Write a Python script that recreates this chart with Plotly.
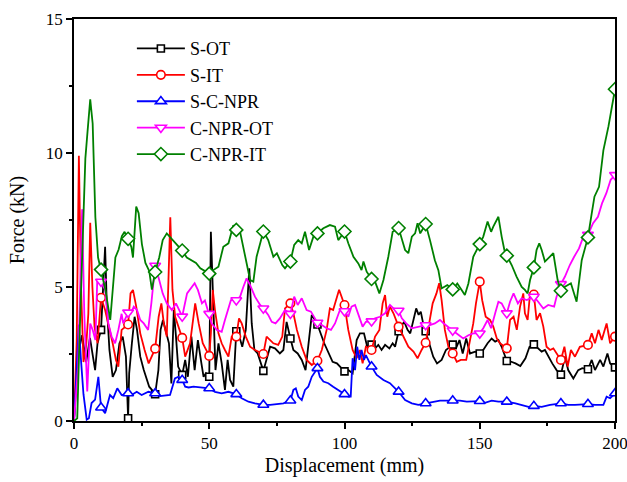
import numpy as np
import plotly.graph_objects as go

# ---------------- data ----------------
names = ["S-OT", "S-IT", "S-C-NPR", "C-NPR-OT", "C-NPR-IT"]

s_ot_x = [0, 1.5, 3, 4.5, 5.9, 7.0, 7.8, 8.7, 10, 11.5, 12.1, 13.1, 14.3, 15.5, 16.8, 18.0, 19.2, 20, 20.4, 21.4,
          22.4, 23.3, 24.5, 25.8, 27.0, 27.8, 28.8, 30, 31.2, 32.0, 32.9, 33.8, 35.1, 36.0, 36.9, 37.7, 38.5, 40,
          41.1, 42.1, 43.4, 44.6, 45.8, 47.1, 47.9, 48.8, 50, 50.6, 51.5, 52.3, 53.4, 54.6, 55.8, 56.8, 57.7, 58.9,
          60, 60.8, 62.2, 63.5, 64.8, 65.7, 66.7, 67.9, 70, 71.2, 72.5, 74.3, 76.1, 77.4, 78.6, 80, 81.1, 82.7,
          84.2, 85.6, 86.9, 87.9, 89.1, 90, 92.5, 94.3, 95.6, 97.2, 100, 101.4, 103.0, 104.5, 105.7, 107.2, 108.4,
          110, 111.3, 112.5, 113.7, 115.0, 116.6, 117.8, 118.7, 120, 120.8, 122.1, 123.3, 124.3, 125.5, 126.5,
          127.4, 128.2, 129.2, 130, 131.3, 132.8, 134.2, 135.9, 137.5, 140, 141.2, 142.5, 143.7, 145.0, 146.4,
          148.3, 150, 151.3, 152.9, 154.4, 155.7, 156.9, 158.1, 160, 161.7, 163.2, 165.0, 166.9, 168.4, 170,
          171.6, 172.9, 174.1, 175.3, 176.8, 178.4, 180, 181.5, 182.7, 184.6, 186.4, 187.9, 190, 191.4, 192.6,
          194.5, 195.7, 197.2, 198.2, 200]
s_ot_y = [0, 2.5, 3.2, 2.2, 3.1, 2.3, 1.9, 2.9, 3.4, 6.5, 4.39, 2.65, 1.65, 1.9, 2.9, 3.15, 2.4, 0.1, 1.78, 2.9,
          3.89, 3.4, 2.4, 1.9, 1.53, 1.28, 1.16, 1.0, 1.9, 3.4, 3.77, 3.4, 2.9, 1.4, 4.14, 3.15, 2.03, 1.72,
          2.28, 1.65, 3.15, 1.9, 3.02, 2.15, 1.65, 1.78, 1.65, 7.06, 3.89, 1.9, 2.9, 2.15, 1.16, 2.28, 1.53, 1.28,
          3.35, 3.27, 2.77, 3.4, 5.7, 3.64, 2.65, 2.52, 1.87, 2.28, 2.77, 2.71, 2.52, 2.65, 3.7, 3.08, 2.65, 2.52,
          2.28, 1.9, 3.15, 3.96, 3.77, 3.6, 2.9, 2.52, 2.21, 2.15, 1.85, 1.9, 1.78, 3.02, 3.27, 3.27, 2.77,
          2.85, 2.71, 2.84, 2.65, 2.84, 2.71, 2.9, 2.77, 3.35, 3.52, 3.7, 3.4, 3.27, 3.83, 4.2,
          3.96, 4.08, 3.58, 3.35, 2.9, 2.4, 2.15, 2.28, 2.65, 2.85, 2.71, 3.02, 2.52, 3.08, 2.52,
          2.59, 2.52, 2.65, 2.9, 3.08, 2.96, 3.02, 2.77, 2.24, 2.21, 2.15, 2.05, 2.34, 2.77, 2.86,
          2.71, 2.59, 2.65, 2.4, 2.15, 1.9, 1.73, 2.4, 1.9, 1.59, 1.9, 1.97, 1.93, 2.28, 1.9,
          2.28, 2.03, 2.52, 2.15, 2.0]

s_it_x = [0, 1.0, 1.8, 2.6, 3.5, 4.5, 5.3, 6.0, 6.8, 7.6, 8.7, 10, 11.5, 12.7, 14.3, 15.5, 16.4, 17.6, 20, 20.9,
          21.8, 23.0, 24.5, 26.1, 27.6, 30, 31.3, 32.3, 33.2, 34.3, 35.6, 36.4, 37.4, 40, 41.1, 42.9, 44.8, 46.1,
          47.6, 50, 50.6, 51.3, 52.1, 53.4, 54.6, 55.8, 57.1, 58.3, 60, 61.0, 62.0, 63.5, 65.1, 66.9, 70, 71.2,
          72.5, 73.7, 75.5, 77.0, 78.0, 80, 81.1, 82.4, 84.2, 86.0, 87.9, 90, 91.6, 93.4, 94.6, 95.8, 98.0, 100,
          101.4, 103.0, 104.5, 105.7, 106.7, 107.9, 110, 111.3, 112.9, 114.1, 115.0, 115.8, 116.8, 118.1, 120,
          121.8, 123.6, 125.5, 127.0, 128.5, 130, 131.3, 132.6, 134.0, 135.0, 135.9, 137.1, 138.4, 140, 141.5,
          143.0, 145.0, 146.4, 147.6, 148.6, 150, 150.9, 152.2, 153.8, 155.0, 156.3, 157.5, 160, 161.2, 162.5,
          163.7, 164.9, 166.1, 166.7, 167.7, 168.6, 170, 171.0, 172.3, 173.5, 174.7, 176.0, 177.2, 180, 181.3,
          182.5, 183.7, 185.2, 187.0, 190, 191.4, 192.6, 193.9, 195.1, 196.9, 198.2, 200]
s_it_y = [0, 3.0, 9.9, 5.0, 2.2, 2.8, 4.0, 7.4, 5.0, 3.5, 2.9, 4.6, 4.14, 3.64, 2.9, 2.28, 2.03, 3.4, 3.6, 4.76,
          4.89, 4.27, 3.27, 2.65, 2.15, 2.7, 3.89, 4.39, 3.64, 3.15, 7.6, 4.89, 3.89, 3.1, 2.4, 2.9, 4.39, 3.64,
          2.9, 2.43, 3.27, 4.89, 4.14, 3.27, 2.9, 2.65, 2.4, 3.15, 3.15, 3.83, 3.64, 3.15, 2.77, 2.65, 2.5, 3.15,
          3.02, 2.9, 2.84, 3.15, 4.2, 4.39, 4.02, 3.4, 2.77, 2.28, 2.09, 2.25, 2.65, 3.4, 4.2, 4.14, 4.9, 4.33,
          3.4, 2.65, 2.34, 2.65, 2.15, 2.77, 2.65, 3.15, 3.4, 4.39, 4.7, 3.89, 4.27, 4.02, 3.52,
          3.15, 2.77, 2.59, 2.34, 2.65, 2.92, 3.64, 4.39, 4.76, 5.14, 4.51, 3.4, 2.77, 2.52, 2.21,
          2.28, 2.28, 3.02, 3.64, 4.39, 5.2, 4.51, 3.89, 3.77, 3.52, 3.08, 2.9, 2.71, 3.77, 3.89,
          3.4, 4.27, 4.76, 4.02, 3.77, 4.76, 4.72, 3.77, 4.02, 3.52, 2.77, 2.65, 2.71, 2.28, 2.77,
          2.03, 2.65, 2.4, 2.77, 2.84, 3.27, 2.9, 3.4, 3.02, 3.64, 2.9, 3.15]

s_cnpr_x = [0, 1.0, 1.8, 2.5, 3.5, 4.7, 5.5, 6.5, 7.8, 9.0, 10, 11.5, 13.3, 14.5, 16.0, 17.6, 20, 21.3, 23.2, 25.0,
            27.5, 30, 31.8, 35.5, 37.3, 38.6, 40, 41.1, 42.4, 44.2, 46.6, 50, 52.1, 54.6, 57.1, 60, 62.0, 64.5,
            66.9, 70, 72.5, 75.0, 77.4, 80, 81.1, 82.0, 82.9, 84.2, 85.4, 86.6, 87.9, 90, 90.9, 92.2, 94.0, 95.8,
            97.7, 100, 101.4, 102.3, 103.0, 103.9, 104.7, 105.5, 106.3, 107.2, 107.9, 110, 111.9, 114.4, 116.8,
            120, 122.4, 124.9, 127.3, 130, 132.8, 135.3, 137.5, 140, 142.7, 145.2, 147.6, 150, 151.9, 154.4, 156.9,
            160, 163.2, 165.5, 168.0, 170, 172.9, 176.0, 180, 182.7, 185.2, 190, 192.6, 195.7, 196.9, 198.2, 200]
s_cnpr_y = [0, 2.0, 3.6, 2.4, 1.0, 0.05, 0.1, 0.67, 0.8, 1.65, 0.5, 0.29, 0.97, 0.85, 1.22, 0.97, 1.03, 0.97, 1.09,
            0.97, 1.09, 1.03, 0.93, 0.97, 1.59, 1.65, 1.53, 1.28, 1.25, 1.28, 1.26, 1.22, 1.09, 1.03, 1.09, 1.0,
            0.85, 0.72, 0.66, 0.6, 0.6, 0.63, 0.66, 0.76, 1.16, 1.22, 0.91, 0.78, 1.16, 1.28, 1.65, 1.97, 1.65,
            1.47, 1.41, 1.28, 1.16, 1.0, 0.91, 0.91, 2.34, 1.9, 2.77, 2.28, 2.65, 2.28, 2.46, 2.03, 1.72, 1.53,
            1.41, 1.09, 0.78, 0.66, 0.6, 0.66, 0.72, 0.76, 0.76, 0.76, 0.76, 0.72, 0.72, 0.74, 0.68, 0.76, 0.72,
            0.72, 0.66, 0.6, 0.53, 0.56, 0.53, 0.6, 0.66, 0.6, 0.6, 0.63, 0.6, 0.6, 0.91, 0.85, 1.03]

c_ot_x = [0, 1.5, 3.0, 3.8, 4.9, 6.0, 6.9, 7.9, 8.6, 10, 11.5, 12.7, 13.9, 15.2, 16.4, 17.6, 18.2, 20, 20.9, 22.1,
          23.3, 24.5, 25.8, 27.4, 28.6, 30, 31.5, 32.8, 34.3, 36.2, 37.7, 40, 41.8, 43.4, 44.6, 45.8, 47.3, 48.4,
          50, 50.9, 52.8, 54.6, 55.8, 57.1, 58.0, 60, 61.4, 62.6, 63.8, 65.1, 66.9, 68.8, 70, 71.8, 73.1, 74.5,
          76.1, 78.0, 80, 81.4, 82.7, 84.2, 86.0, 87.6, 90, 91.6, 93.4, 95.0, 96.5, 98.3, 100, 101.4, 102.6,
          103.9, 105.1, 106.7, 107.9, 110, 111.3, 113.1, 115.0, 116.8, 118.1, 120, 121.2, 122.8, 124.9, 127.0,
          130, 131.6, 133.4, 135.3, 136.7, 140, 142.1, 143.9, 145.8, 147.6, 150, 151.3, 152.9, 154.2, 155.7,
          156.9, 158.1, 160, 161.2, 162.5, 164.1, 165.5, 167.4, 170, 171.6, 173.5, 175.3, 177.5, 178.4, 180,
          181.5, 183.3, 184.9, 186.7, 188.3, 190, 191.9, 193.7, 195.2, 196.8, 198.4, 200]
c_ot_y = [0, 2.0, 7.9, 4.0, 1.1, 3.64, 3.4, 3.02, 5.26, 5.2, 4.89, 3.64, 3.15, 2.9, 3.4, 4.0, 3.64, 4.05, 4.0, 4.27,
          4.14, 3.77, 3.64, 3.4, 4.4, 5.8, 5.26, 4.76, 4.39, 4.14, 4.39, 3.9, 4.76, 5.0, 5.14, 4.89, 4.39, 4.5,
          4.0, 3.64, 3.4, 3.33, 3.77, 4.27, 4.51, 4.51, 4.64, 5.0, 5.32, 5.07, 4.64, 4.33, 4.2, 3.96, 3.7, 3.64,
          3.83, 4.14, 4.0, 4.64, 4.33, 4.58, 4.14, 4.08, 3.67, 3.58, 3.46, 3.4, 3.64, 4.14, 4.1, 3.89, 4.27,
          4.33, 3.96, 3.52, 3.7, 3.72, 3.83, 3.89, 4.02, 4.33, 4.2, 4.12, 3.83, 3.64, 3.46, 3.52,
          3.58, 3.58, 3.64, 3.77, 3.64, 3.38, 3.2, 3.08, 3.2, 3.27, 3.27, 3.46, 3.77, 3.46, 4.02,
          4.45, 4.39, 4.02, 4.45, 4.76, 4.39, 4.58, 4.51, 4.64, 4.45, 4.2, 4.33, 4.27, 4.64, 5.11,
          5.39, 5.82, 6.13, 6.44, 6.88, 6.95, 7.38, 7.62, 8.12, 8.5, 9.0, 9.18]

c_it_x = [0, 1.2, 2.0, 3.0, 4.2, 5.0, 6.0, 6.9, 7.9, 8.9, 10, 11.6, 13.4, 14.7, 15.3, 16.5, 17.7, 18.7, 20, 21.2,
          21.8, 23.0, 23.9, 25.1, 26.4, 27.8, 28.8, 30, 31.5, 32.8, 34.3, 36.2, 40, 41.7, 43.6, 45.1, 46.7, 50,
          51.5, 53.4, 55.2, 57.1, 58.9, 60, 61.4, 63.2, 65.1, 66.3, 67.5, 70, 71.8, 73.7, 75.0, 77.0, 78.0, 80,
          81.4, 82.9, 84.2, 85.4, 86.9, 88.5, 90, 92.2, 94.6, 96.5, 97.7, 100, 101.4, 103.3, 105.1, 106.3, 107.0,
          108.2, 110, 111.3, 112.9, 114.4, 116.2, 117.8, 120, 121.2, 122.4, 123.6, 124.9, 126.1, 127.0, 128.0,
          130, 131.6, 133.4, 134.7, 135.9, 136.8, 138.0, 140, 141.7, 143.3, 144.5, 145.8, 147.6, 150, 151.3,
          152.9, 154.2, 155.0, 156.9, 158.1, 159.1, 160, 161.8, 163.6, 165.5, 166.7, 167.7, 168.6, 170, 171.0,
          172.0, 172.9, 174.1, 177.2, 178.8, 180, 181.5, 183.7, 185.8, 187.7, 190, 191.4, 192.4, 194.1, 195.7,
          197.6, 200]
c_it_y = [0, 0.1, 3.0, 6.5, 9.8, 10.8, 12.0, 11.1, 7.6, 6.1, 5.65, 4.9, 3.77, 5.4, 6.1, 6.4, 6.9, 7.06, 6.8, 6.5,
          6.1, 8.0, 7.75, 6.6, 5.9, 5.6, 4.9, 5.56, 6.1, 6.75, 7.0, 6.8, 6.36, 6.1, 6.0, 5.9, 5.7, 5.5,
          5.63, 5.76, 6.5, 6.63, 7.3, 7.13, 7.06, 6.13, 5.26, 5.2, 6.13, 7.07, 6.75, 6.13, 6.26, 5.82, 5.7, 5.95,
          6.57, 6.75, 6.63, 7.06, 6.38, 6.88, 7.0, 7.19, 7.31, 7.25, 6.75, 7.07, 6.63, 6.13, 5.88, 5.63, 5.95,
          5.57, 5.3, 5.2, 4.76, 5.26, 6.13, 7.06, 7.2, 6.75, 6.38, 6.26, 6.88, 7.0, 7.38, 7.0,
          7.35, 6.75, 6.0, 5.63, 4.95, 5.0, 5.07, 4.91, 5.13, 4.89, 4.7, 5.13, 6.13, 6.6, 6.88,
          7.44, 7.06, 7.25, 7.62, 6.88, 6.38, 6.17, 5.82, 5.39, 5.0, 4.89, 4.76, 5.26, 5.73, 6.38,
          6.63, 6.38, 5.95, 6.26, 5.26, 4.86, 5.01, 5.14, 4.45, 6.0, 6.85, 7.75, 8.37, 8.74, 10.1,
          11.0, 12.38]

x_ticks = [0, 50, 100, 150, 200]
y_ticks = [0, 5, 10, 15]

# ---------------- style ----------------
series = [
    (names[0], s_ot_x, s_ot_y, "#000000", "square", 7),
    (names[1], s_it_x, s_it_y, "#FF0000", "circle", 8.5),
    (names[2], s_cnpr_x, s_cnpr_y, "#0000FF", "triangle-up", 9.5),
    (names[3], c_ot_x, c_ot_y, "#FF00FF", "triangle-down", 9.5),
    (names[4], c_it_x, c_it_y, "#008000", "diamond", 10),
]

FONT = "Liberation Serif, Times New Roman, serif"
fig = go.Figure()

for name, xs, ys, col, sym, sz in series:
    xa = np.array(xs, dtype=float)
    ya = np.array(ys, dtype=float)
    fig.add_trace(go.Scatter(x=xa, y=ya, mode="lines", line=dict(color=col, width=1.8),
                             showlegend=False, hoverinfo="skip"))
    sel = (xa > 0) & np.isclose(np.mod(xa, 10), 0)
    fig.add_trace(go.Scatter(x=xa[sel], y=ya[sel], mode="markers", showlegend=False,
                             marker=dict(symbol=sym, size=sz, color="white",
                                         line=dict(color=col, width=1.6))))

for name, xs, ys, col, sym, sz in series:
    fig.add_trace(go.Scatter(x=[None], y=[None], mode="lines+markers", name=name,
                             line=dict(color=col, width=1.8),
                             marker=dict(symbol=sym, size=sz, color="white",
                                         line=dict(color=col, width=1.6))))

axis_common = dict(showline=True, linecolor="black", linewidth=1.8, mirror=True,
                   ticks="outside", tickcolor="black", tickwidth=1.5, ticklen=6,
                   showgrid=False, zeroline=False, automargin=False,
                   ticklabeloverflow="allow",
                   tickfont=dict(family=FONT, size=17, color="black"))

fig.update_xaxes(range=[0, 200], tickvals=x_ticks, ticktext=[str(v) for v in x_ticks],
                 title=dict(text="Displacement (mm)", font=dict(family=FONT, size=20, color="black"), standoff=6),
                 minor=dict(ticks="outside", ticklen=3.5, tickwidth=1.5, tickcolor="black", dtick=25, tick0=0),
                 **axis_common)
fig.update_yaxes(range=[0, 15], tickvals=y_ticks, ticktext=[str(v) for v in y_ticks],
                 title=dict(text="Force (kN)", font=dict(family=FONT, size=20, color="black"), standoff=16),
                 minor=dict(ticks="outside", ticklen=3.5, tickwidth=1.5, tickcolor="black", dtick=2.5, tick0=0),
                 **axis_common)

fig.update_layout(
    width=627, height=482,
    margin=dict(l=74, r=12, t=19, b=61, autoexpand=False),
    paper_bgcolor="white", plot_bgcolor="white",
    font=dict(family=FONT, color="black"),
    legend=dict(x=0.107, y=0.972, xanchor="left", yanchor="top", bgcolor="rgba(0,0,0,0)",
                font=dict(family=FONT, size=18, color="black"), itemwidth=48,
                tracegroupgap=0),
)

# remove the default 8px page margin so the figure fills the window exactly
fig.write_html("out.html", config={"displayModeBar": False},
               post_script="document.body.style.margin='0px';document.body.style.overflow='hidden';")
